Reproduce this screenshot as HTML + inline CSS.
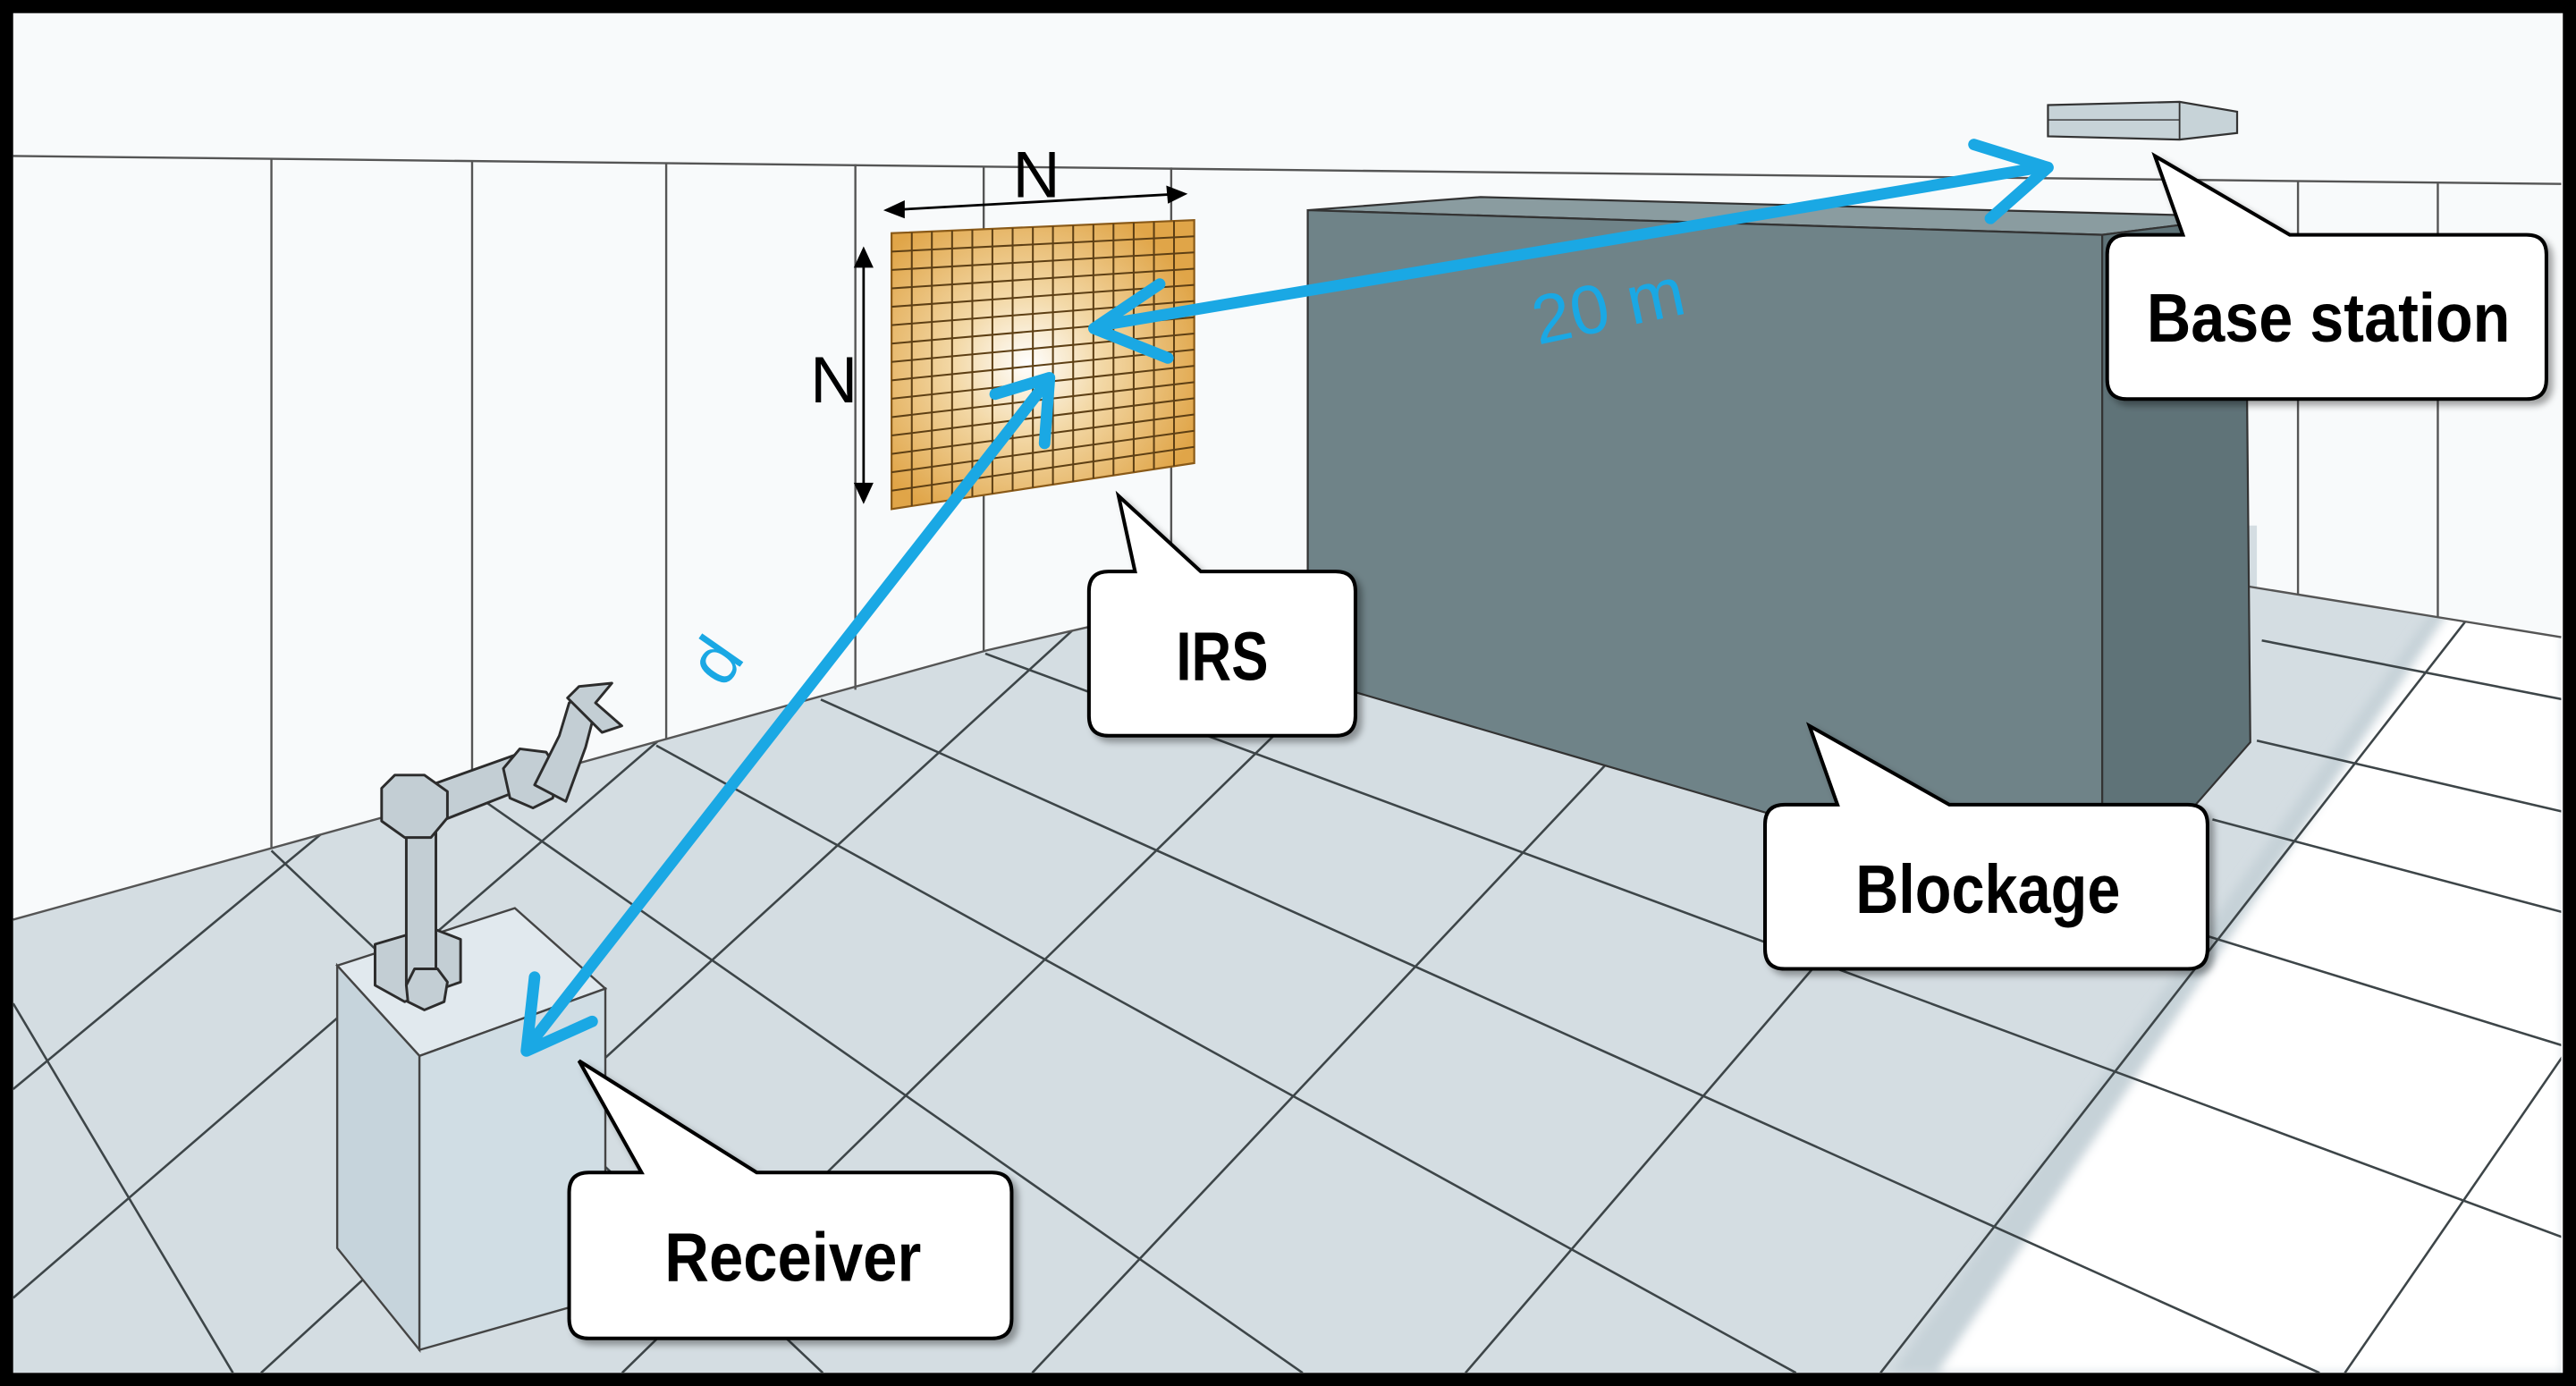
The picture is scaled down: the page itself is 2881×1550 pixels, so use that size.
<!DOCTYPE html>
<html><head><meta charset="utf-8"><style>
html,body{margin:0;padding:0;background:#fff;width:2881px;height:1550px;overflow:hidden;}
svg{display:block;overflow:hidden;}
.lbl{font-family:"Liberation Sans",sans-serif;font-weight:bold;font-size:42px;fill:#000;}
</style></head><body><svg id="s" width="2881" height="1550" viewBox="0 0 1566 844" preserveAspectRatio="none" xmlns="http://www.w3.org/2000/svg">
<defs>
<radialGradient id="irs" cx="0.45" cy="0.5" r="0.6">
<stop offset="0" stop-color="#ffffff"/><stop offset="0.4" stop-color="#f3d9a8"/><stop offset="1" stop-color="#e0a548"/>
</radialGradient>
<clipPath id="floorclip"><polygon points="8,560 600,396 800,350 1000,320 1372,320 1372,358 1557,388 1557,836 8,836"/></clipPath>
<filter id="sh" x="-10%" y="-10%" width="130%" height="130%"><feDropShadow dx="3" dy="3" stdDeviation="2" flood-color="#000" flood-opacity="0.35"/></filter>
<filter id="blur"><feGaussianBlur stdDeviation="3"/></filter>
</defs>
<rect width="1566" height="844" fill="#f8fafb"/>
<g clip-path="url(#floorclip)">
<rect x="0" y="300" width="1566" height="544" fill="#d4dde2"/>
<polygon points="1480,370 1497,370 1180,836 1150,836" fill="#c6d2d8" filter="url(#blur)"/>
<polygon points="1497,360 1558,360 1558,836 1178,836" fill="#ffffff" filter="url(#blur)"/>
<g stroke="#3d4548" stroke-width="1.4" fill="none" id="tiles"></g>
</g>
<g stroke="#555" stroke-width="1.3">
<line x1="8" y1="95" x2="1557" y2="112"/>
<polyline points="8,560 600,396 800,350" fill="none"/>
<polyline points="1366,357 1557,388" fill="none"/>
<line x1="165" y1="97" x2="165" y2="516"/>
<line x1="287" y1="98" x2="287" y2="482"/>
<line x1="405" y1="99" x2="405" y2="450"/>
<line x1="520" y1="100" x2="520" y2="420"/>
<line x1="598" y1="101" x2="598" y2="397"/>
<line x1="712" y1="102" x2="712" y2="373"/>
<line x1="1397" y1="110" x2="1397" y2="362"/>
<line x1="1482" y1="111" x2="1482" y2="376"/>
</g>
<polygon points="795,128 900,120 1365,132 1278,143" fill="#8a9ca0" stroke="#333" stroke-width="1.2"/>
<polygon points="795,128 1278,143 1278,555 795,413" fill="#6f8388" stroke="#333" stroke-width="1.2"/>
<polygon points="1278,143 1365,132 1368,452 1278,555" fill="#5f7378" stroke="#333" stroke-width="1.2"/>
<polygon points="542,142 726,134 726,282 542,310" fill="url(#irs)" stroke="#8a5a18" stroke-width="1.2"/>
<g id="irsgrid" stroke="#5d3f14" stroke-width="1.1"></g>
<g stroke="#000" stroke-width="1.5" fill="#000">
<line x1="540" y1="128" x2="718" y2="118"/>
<polygon points="537,128 550,122 550,133" stroke="none"/>
<polygon points="722,118 709,113 710,124" stroke="none"/>
<line x1="525" y1="155" x2="525" y2="302"/>
<polygon points="525,150 519,163 531,163" stroke="none"/>
<polygon points="525,307 519,294 531,294" stroke="none"/>
</g>
<text x="630" y="120" font-family="Liberation Sans,sans-serif" font-size="40" text-anchor="middle">N</text>
<text x="507" y="245" font-family="Liberation Sans,sans-serif" font-size="40" text-anchor="middle">N</text>
<polygon points="1245,64 1325,62 1360,68 1360,81 1325,85 1245,83" fill="#c7d3d8" stroke="#333" stroke-width="1.2"/>
<line x1="1325" y1="62" x2="1325" y2="85" stroke="#333"/>
<line x1="1245" y1="73" x2="1325" y2="73" stroke="#333" stroke-width="0.8"/>
<polygon points="205,588 313,553 368,602 255,643" fill="#e1e9ee" stroke="#444" stroke-width="1.3"/>
<polygon points="205,588 255,643 255,822 205,760" fill="#c6d4dc" stroke="#444" stroke-width="1.3"/>
<polygon points="255,643 368,602 368,790 255,822" fill="#d0dde4" stroke="#444" stroke-width="1.3"/>
<g fill="#c3ced4" stroke="#2c2c2c" stroke-width="1.6" stroke-linejoin="round">
<polygon points="228,575 262,565 280,572 280,598 246,610 228,600"/>
<rect x="247" y="495" width="18" height="105"/>
<polygon points="247,600 252,590 266,590 272,598 270,610 258,615 248,610"/>
<polygon points="262,478 318,458 324,478 268,500"/>
<polygon points="232,480 240,472 258,472 272,482 272,498 262,510 246,510 232,500"/>
<polygon points="306,468 316,456 332,458 340,470 336,486 324,492 310,486"/>
<polygon points="325,478 340,448 346,428 356,422 362,432 356,455 344,488"/>
<polygon points="345,425 352,418 372,416 362,428 378,442 366,446 356,436"/>
</g>
<g stroke="#1aa8e4" stroke-width="7" fill="none" stroke-linecap="round" stroke-linejoin="round">
<line x1="670" y1="198" x2="1240" y2="102"/>
<polyline points="705,173 665,200 710,218"/>
<polyline points="1200,88 1245,102 1210,133"/>
<line x1="636" y1="233" x2="322" y2="636"/>
<polyline points="605,240 638,230 635,270"/>
<polyline points="325,595 320,640 360,622"/>
</g>
<text transform="translate(935,210) rotate(-12)" font-family="Liberation Sans,sans-serif" font-size="42" fill="#1aa8e4">20 m</text>
<text transform="translate(440,420) rotate(-55)" font-family="Liberation Sans,sans-serif" font-size="42" fill="#1aa8e4">d</text>
<g fill="#fff" stroke="#000" stroke-width="2.2" filter="url(#sh)">
<path d="M1295,143 H1327 L1310,95 L1392,143 H1536 Q1548,143 1548,155 V231 Q1548,243 1536,243 H1293 Q1281,243 1281,231 V155 Q1281,143 1293,143 Z"/>
<path d="M674,348 H690 L680,302 L730,348 H812 Q824,348 824,360 V436 Q824,448 812,448 H674 Q662,448 662,436 V360 Q662,348 674,348 Z"/>
<path d="M1085,490 H1117 L1100,442 L1185,490 H1330 Q1342,490 1342,502 V578 Q1342,590 1330,590 H1085 Q1073,590 1073,578 V502 Q1073,490 1085,490 Z"/>
<path d="M358,714 H390 L352,646 L460,714 H603 Q615,714 615,726 V803 Q615,815 603,815 H358 Q346,815 346,803 V726 Q346,714 358,714 Z"/>
</g>
<text class="lbl" x="1305" y="208" textLength="221" lengthAdjust="spacingAndGlyphs">Base station</text>
<text class="lbl" x="715" y="414" textLength="56" lengthAdjust="spacingAndGlyphs">IRS</text>
<text class="lbl" x="1128" y="556" textLength="161" lengthAdjust="spacingAndGlyphs">Blockage</text>
<text class="lbl" x="404" y="780" textLength="156" lengthAdjust="spacingAndGlyphs">Receiver</text>
<rect x="4" y="4" width="1558" height="836" fill="none" stroke="#000" stroke-width="8"/>
<script><![CDATA[
(function(){
var NS="http://www.w3.org/2000/svg";
function L(g,x1,y1,x2,y2){var l=document.createElementNS(NS,"line");l.setAttribute("x1",x1.toFixed(1));l.setAttribute("y1",y1.toFixed(1));l.setAttribute("x2",x2.toFixed(1));l.setAttribute("y2",y2.toFixed(1));g.appendChild(l);}
var g=document.getElementById("irsgrid");
var TL=[542,142],TR=[726,134],BR=[726,282],BL=[542,310],n=15;
for(var i=1;i<n;i++){var t=i/n;
 L(g,TL[0]+(TR[0]-TL[0])*t,TL[1]+(TR[1]-TL[1])*t,BL[0]+(BR[0]-BL[0])*t,BL[1]+(BR[1]-BL[1])*t);
 L(g,TL[0]+(BL[0]-TL[0])*t,TL[1]+(BL[1]-TL[1])*t,TR[0]+(BR[0]-TR[0])*t,TR[1]+(BR[1]-TR[1])*t);}
var f=document.getElementById("tiles");
var X0=8,X1=1558,Y0=8,Y1=836;
function seg(px,py,dx,dy){ // segment from p in direction d, clipped to box, t in [0,inf)
 var t0=0,t1=1e9;
 function c(p,q){if(p===0){return q>=0;}var r=q/p;if(p<0){if(r>t1)return false;if(r>t0)t0=r;}else{if(r<t0)return false;if(r<t1)t1=r;}return true;}
 if(c(-dx,px-X0)&&c(dx,X1-px)&&c(-dy,py-Y0)&&c(dy,Y1-py)){L(f,px+dx*t0,py+dy*t0,px+dx*t1,py+dy*t1);}
}
var VD=[-321,57], VU=[3580,-2300];
var D=[[8,611],[165,518],[289,484],[399,454],[499,426],[599,398],[700,372],[1345,499],[1372,451],[1375,390]];
D.forEach(function(p){seg(p[0],p[1],p[0]-VD[0],p[1]-VD[1]);});
var UB=[-210,-54,150,370,620,884,1137,1420];
UB.forEach(function(x){seg(x,844,VU[0]-x,VU[1]-844);});
})();
]]></script>
</svg></body></html>
